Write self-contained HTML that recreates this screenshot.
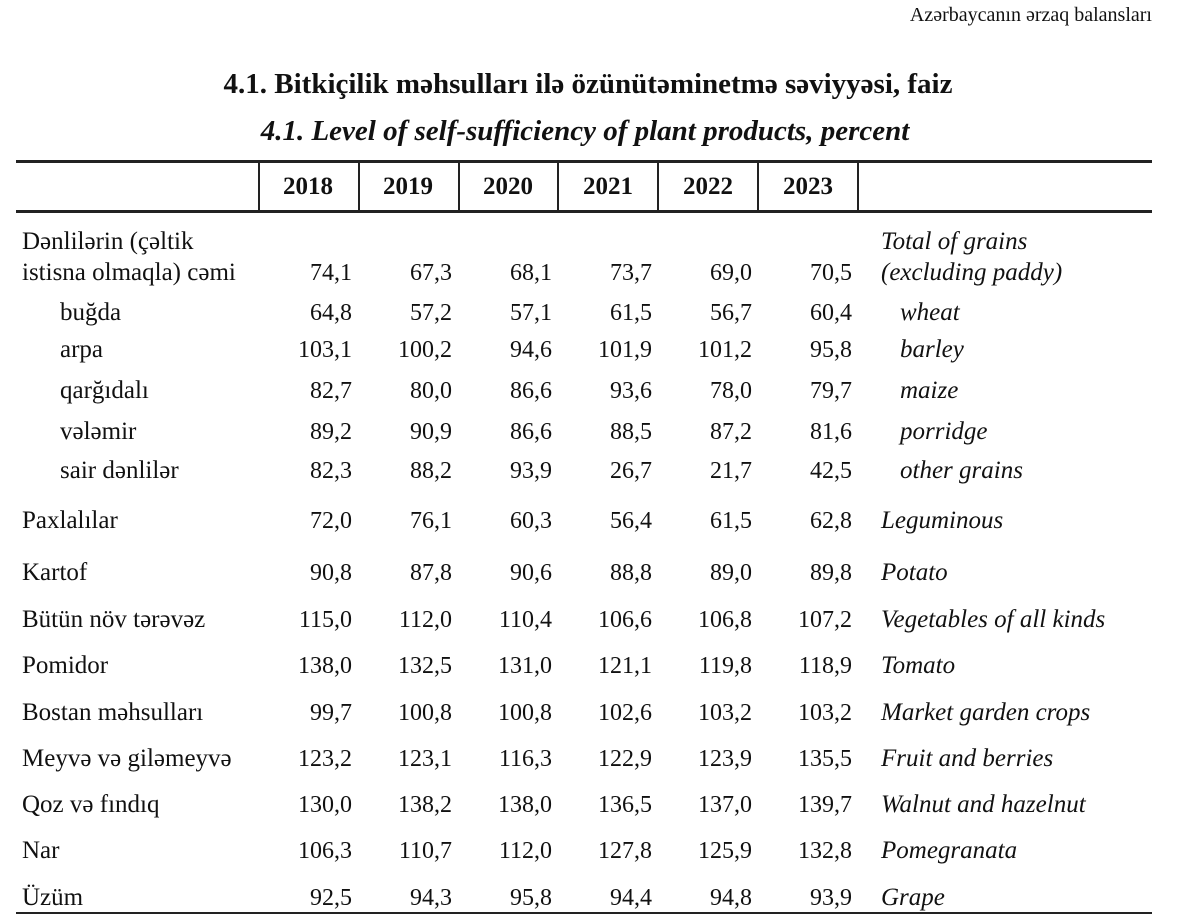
<!DOCTYPE html>
<html><head><meta charset="utf-8"><style>
body{margin:0;width:1184px;height:921px;background:#fff;font-family:"Liberation Serif",serif;color:#111;position:relative;overflow:hidden}
.a{position:absolute;white-space:nowrap}
.hr{position:absolute;left:16px;width:1136px;background:#222}
.vr{position:absolute;top:162px;height:50px;width:2px;background:#222}
.n{position:absolute;font-size:24px;text-align:right;width:90px;white-space:nowrap}
.l{position:absolute;left:22px;font-size:25px;white-space:nowrap}
.r{position:absolute;left:881px;font-size:25px;font-style:italic;white-space:nowrap}
</style></head><body>
<div class="a" style="right:32px;top:4px;font-size:20px">Azərbaycanın ərzaq balansları</div>
<div class="a" style="left:0;width:1176px;text-align:center;top:68px;font-size:29px;font-weight:bold">4.1. Bitkiçilik məhsulları ilə özünütəminetmə səviyyəsi, faiz</div>
<div class="a" style="left:0;width:1170px;text-align:center;top:115px;font-size:29px;font-weight:bold;font-style:italic">4.1. Level of self-sufficiency of plant products, percent</div>
<div class="hr" style="top:160px;height:3px"></div>
<div class="hr" style="top:210px;height:3px"></div>
<div class="hr" style="top:912px;height:2px"></div>
<div class="vr" style="left:258px"></div><div class="vr" style="left:358px"></div><div class="vr" style="left:458px"></div><div class="vr" style="left:557px"></div><div class="vr" style="left:657px"></div><div class="vr" style="left:757px"></div><div class="vr" style="left:857px"></div>
<div id="c"></div>
<script>
var h='';
[2018,2019,2020,2021,2022,2023].forEach(function(y,i){h+='<div class="a" style="left:'+(258+i*100)+'px;width:100px;text-align:center;top:173px;font-size:25px;font-weight:bold">'+y+'</div>';});
var rows=[
[228,'Dənlilərin (çəltik',null,'Total of grains',0],
[259,'istisna olmaqla) cəmi','74,1 67,3 68,1 73,7 69,0 70,5','(excluding paddy)',0],
[299,'buğda','64,8 57,2 57,1 61,5 56,7 60,4','wheat',1],
[336,'arpa','103,1 100,2 94,6 101,9 101,2 95,8','barley',1],
[377,'qarğıdalı','82,7 80,0 86,6 93,6 78,0 79,7','maize',1],
[418,'vələmir','89,2 90,9 86,6 88,5 87,2 81,6','porridge',1],
[457,'sair dənlilər','82,3 88,2 93,9 26,7 21,7 42,5','other grains',1],
[507,'Paxlalılar','72,0 76,1 60,3 56,4 61,5 62,8','Leguminous',0],
[559,'Kartof','90,8 87,8 90,6 88,8 89,0 89,8','Potato',0],
[606,'Bütün növ tərəvəz','115,0 112,0 110,4 106,6 106,8 107,2','Vegetables of all kinds',0],
[652,'Pomidor','138,0 132,5 131,0 121,1 119,8 118,9','Tomato',0],
[699,'Bostan məhsulları','99,7 100,8 100,8 102,6 103,2 103,2','Market garden crops',0],
[745,'Meyvə və giləmeyvə','123,2 123,1 116,3 122,9 123,9 135,5','Fruit and berries',0],
[791,'Qoz və fındıq','130,0 138,2 138,0 136,5 137,0 139,7','Walnut and hazelnut',0],
[837,'Nar','106,3 110,7 112,0 127,8 125,9 132,8','Pomegranata',0],
[884,'Üzüm','92,5 94,3 95,8 94,4 94,8 93,9','Grape',0]];
rows.forEach(function(r){
var t=r[0];
h+='<div class="l" style="top:'+t+'px;left:'+(r[4]?60:22)+'px">'+r[1]+'</div>';
h+='<div class="r" style="top:'+t+'px;left:'+(r[4]?900:881)+'px">'+r[3]+'</div>';
if(r[2])r[2].split(' ').forEach(function(v,i){h+='<div class="n" style="top:'+(t+1)+'px;left:'+(262+i*100)+'px">'+v+'</div>';});
});
document.getElementById('c').innerHTML=h;
</script>
</body></html>
